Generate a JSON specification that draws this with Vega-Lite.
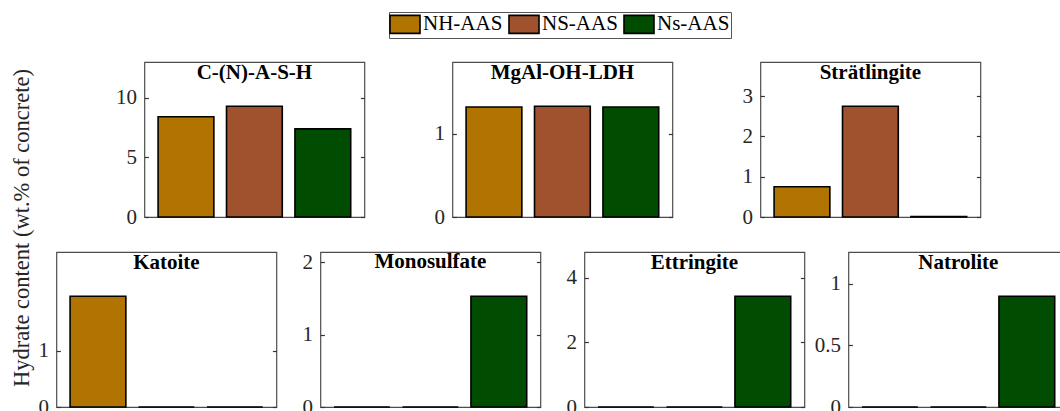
{
  "$schema": "https://vega.github.io/schema/vega-lite/v6.json",
  "padding": {"left": 10, "top": 11, "right": 5, "bottom": 5},
  "background": "white",
  "datasets": {
    "d": [
      {"hydrate": "C-(N)-A-S-H", "mix": "NH-AAS", "value": 8.42},
      {"hydrate": "C-(N)-A-S-H", "mix": "NS-AAS", "value": 9.3},
      {"hydrate": "C-(N)-A-S-H", "mix": "Ns-AAS", "value": 7.4},
      {"hydrate": "MgAl-OH-LDH", "mix": "NH-AAS", "value": 1.322},
      {"hydrate": "MgAl-OH-LDH", "mix": "NS-AAS", "value": 1.33},
      {"hydrate": "MgAl-OH-LDH", "mix": "Ns-AAS", "value": 1.322},
      {"hydrate": "Strätlingite", "mix": "NH-AAS", "value": 0.75},
      {"hydrate": "Strätlingite", "mix": "NS-AAS", "value": 2.75},
      {"hydrate": "Strätlingite", "mix": "Ns-AAS", "value": 0.01},
      {"hydrate": "Katoite", "mix": "NH-AAS", "value": 1.96},
      {"hydrate": "Katoite", "mix": "NS-AAS", "value": 0},
      {"hydrate": "Katoite", "mix": "Ns-AAS", "value": 0},
      {"hydrate": "Monosulfate", "mix": "NH-AAS", "value": 0},
      {"hydrate": "Monosulfate", "mix": "NS-AAS", "value": 0},
      {"hydrate": "Monosulfate", "mix": "Ns-AAS", "value": 1.53},
      {"hydrate": "Ettringite", "mix": "NH-AAS", "value": 0},
      {"hydrate": "Ettringite", "mix": "NS-AAS", "value": 0},
      {"hydrate": "Ettringite", "mix": "Ns-AAS", "value": 3.43},
      {"hydrate": "Natrolite", "mix": "NH-AAS", "value": 0},
      {"hydrate": "Natrolite", "mix": "NS-AAS", "value": 0},
      {"hydrate": "Natrolite", "mix": "Ns-AAS", "value": 0.9}
    ]
  },
  "data": {"name": "d"},
  "title": {
    "text": "Hydrate content (wt.% of concrete)",
    "orient": "left",
    "anchor": "middle",
    "font": "Liberation Serif",
    "fontSize": 22.5,
    "fontWeight": "normal",
    "color": "#262626",
    "offset": 4,
    "dx": -13.5
  },
  "center": true,
  "spacing": 22,
  "resolve": {"scale": {"color": "shared"}, "legend": {"color": "shared"}},
  "vconcat": [
    {
      "bounds": "flush",
      "spacing": 88,
      "resolve": {"scale": {"color": "shared"}, "legend": {"color": "shared"}},
      "hconcat": [
        {
          "width": 220, "height": 155,
          "title": {"text": "C-(N)-A-S-H"},
          "transform": [{"filter": "datum.hydrate === 'C-(N)-A-S-H'"}],
          "layer": [
            {"mark": {"type": "bar", "stroke": "black", "strokeWidth": 1.6},
             "encoding": {
               "x": {"field": "mix", "type": "nominal", "sort": ["NH-AAS", "NS-AAS", "Ns-AAS"], "axis": null, "scale": {"paddingInner": 0.185, "paddingOuter": 0.2}},
               "y": {"field": "value", "type": "quantitative", "scale": {"domain": [0, 13.02], "nice": false, "zero": true}, "axis": {"values": [0, 5, 10], "title": null}},
               "color": {"field": "mix", "type": "nominal"}
             }},
            {"mark": {"type": "bar", "opacity": 0},
             "encoding": {
               "x": {"field": "mix", "type": "nominal", "sort": ["NH-AAS", "NS-AAS", "Ns-AAS"], "axis": null},
               "y": {"field": "value", "type": "quantitative", "axis": {"orient": "right", "values": [0, 5, 10], "labels": false, "title": null}}
             }}
          ],
          "resolve": {"axis": {"y": "independent"}}
        },
        {
          "width": 220, "height": 155,
          "title": {"text": "MgAl-OH-LDH"},
          "transform": [{"filter": "datum.hydrate === 'MgAl-OH-LDH'"}],
          "layer": [
            {"mark": {"type": "bar", "stroke": "black", "strokeWidth": 1.6},
             "encoding": {
               "x": {"field": "mix", "type": "nominal", "sort": ["NH-AAS", "NS-AAS", "Ns-AAS"], "axis": null, "scale": {"paddingInner": 0.185, "paddingOuter": 0.2}},
               "y": {"field": "value", "type": "quantitative", "scale": {"domain": [0, 1.862], "nice": false, "zero": true}, "axis": {"values": [0, 1], "title": null}},
               "color": {"field": "mix", "type": "nominal"}
             }},
            {"mark": {"type": "bar", "opacity": 0},
             "encoding": {
               "x": {"field": "mix", "type": "nominal", "sort": ["NH-AAS", "NS-AAS", "Ns-AAS"], "axis": null},
               "y": {"field": "value", "type": "quantitative", "axis": {"orient": "right", "values": [0, 1], "labels": false, "title": null}}
             }}
          ],
          "resolve": {"axis": {"y": "independent"}}
        },
        {
          "width": 220, "height": 155,
          "title": {"text": "Strätlingite"},
          "transform": [{"filter": "datum.hydrate === 'Strätlingite'"}],
          "layer": [
            {"mark": {"type": "bar", "stroke": "black", "strokeWidth": 1.6},
             "encoding": {
               "x": {"field": "mix", "type": "nominal", "sort": ["NH-AAS", "NS-AAS", "Ns-AAS"], "axis": null, "scale": {"paddingInner": 0.185, "paddingOuter": 0.2}},
               "y": {"field": "value", "type": "quantitative", "scale": {"domain": [0, 3.85], "nice": false, "zero": true}, "axis": {"values": [0, 1, 2, 3], "title": null}},
               "color": {"field": "mix", "type": "nominal"}
             }},
            {"mark": {"type": "bar", "opacity": 0},
             "encoding": {
               "x": {"field": "mix", "type": "nominal", "sort": ["NH-AAS", "NS-AAS", "Ns-AAS"], "axis": null},
               "y": {"field": "value", "type": "quantitative", "axis": {"orient": "right", "values": [0, 1, 2, 3], "labels": false, "title": null}}
             }}
          ],
          "resolve": {"axis": {"y": "independent"}}
        }
      ]
    },
    {
      "bounds": "flush",
      "spacing": 44,
      "resolve": {"scale": {"color": "shared"}, "legend": {"color": "shared"}},
      "hconcat": [
        {
          "width": 220, "height": 155,
          "title": {"text": "Katoite"},
          "transform": [{"filter": "datum.hydrate === 'Katoite'"}],
          "layer": [
            {"mark": {"type": "bar", "stroke": "black", "strokeWidth": 1.6},
             "encoding": {
               "x": {"field": "mix", "type": "nominal", "sort": ["NH-AAS", "NS-AAS", "Ns-AAS"], "axis": null, "scale": {"paddingInner": 0.185, "paddingOuter": 0.2}},
               "y": {"field": "value", "type": "quantitative", "scale": {"domain": [0, 2.744], "nice": false, "zero": true}, "axis": {"values": [0, 1], "title": null}},
               "color": {"field": "mix", "type": "nominal"}
             }},
            {"mark": {"type": "bar", "opacity": 0},
             "encoding": {
               "x": {"field": "mix", "type": "nominal", "sort": ["NH-AAS", "NS-AAS", "Ns-AAS"], "axis": null},
               "y": {"field": "value", "type": "quantitative", "axis": {"orient": "right", "values": [0, 1], "labels": false, "title": null}}
             }}
          ],
          "resolve": {"axis": {"y": "independent"}}
        },
        {
          "width": 220, "height": 155,
          "title": {"text": "Monosulfate"},
          "transform": [{"filter": "datum.hydrate === 'Monosulfate'"}],
          "layer": [
            {"mark": {"type": "bar", "stroke": "black", "strokeWidth": 1.6},
             "encoding": {
               "x": {"field": "mix", "type": "nominal", "sort": ["NH-AAS", "NS-AAS", "Ns-AAS"], "axis": null, "scale": {"paddingInner": 0.185, "paddingOuter": 0.2}},
               "y": {"field": "value", "type": "quantitative", "scale": {"domain": [0, 2.142], "nice": false, "zero": true}, "axis": {"values": [0, 1, 2], "title": null}},
               "color": {"field": "mix", "type": "nominal"}
             }},
            {"mark": {"type": "bar", "opacity": 0},
             "encoding": {
               "x": {"field": "mix", "type": "nominal", "sort": ["NH-AAS", "NS-AAS", "Ns-AAS"], "axis": null},
               "y": {"field": "value", "type": "quantitative", "axis": {"orient": "right", "values": [0, 1, 2], "labels": false, "title": null}}
             }}
          ],
          "resolve": {"axis": {"y": "independent"}}
        },
        {
          "width": 220, "height": 155,
          "title": {"text": "Ettringite"},
          "transform": [{"filter": "datum.hydrate === 'Ettringite'"}],
          "layer": [
            {"mark": {"type": "bar", "stroke": "black", "strokeWidth": 1.6},
             "encoding": {
               "x": {"field": "mix", "type": "nominal", "sort": ["NH-AAS", "NS-AAS", "Ns-AAS"], "axis": null, "scale": {"paddingInner": 0.185, "paddingOuter": 0.2}},
               "y": {"field": "value", "type": "quantitative", "scale": {"domain": [0, 4.802], "nice": false, "zero": true}, "axis": {"values": [0, 2, 4], "title": null}},
               "color": {"field": "mix", "type": "nominal"}
             }},
            {"mark": {"type": "bar", "opacity": 0},
             "encoding": {
               "x": {"field": "mix", "type": "nominal", "sort": ["NH-AAS", "NS-AAS", "Ns-AAS"], "axis": null},
               "y": {"field": "value", "type": "quantitative", "axis": {"orient": "right", "values": [0, 2, 4], "labels": false, "title": null}}
             }}
          ],
          "resolve": {"axis": {"y": "independent"}}
        },
        {
          "width": 220, "height": 155,
          "title": {"text": "Natrolite"},
          "transform": [{"filter": "datum.hydrate === 'Natrolite'"}],
          "layer": [
            {"mark": {"type": "bar", "stroke": "black", "strokeWidth": 1.6},
             "encoding": {
               "x": {"field": "mix", "type": "nominal", "sort": ["NH-AAS", "NS-AAS", "Ns-AAS"], "axis": null, "scale": {"paddingInner": 0.185, "paddingOuter": 0.2}},
               "y": {"field": "value", "type": "quantitative", "scale": {"domain": [0, 1.26], "nice": false, "zero": true}, "axis": {"values": [0, 0.5, 1], "title": null}},
               "color": {"field": "mix", "type": "nominal"}
             }},
            {"mark": {"type": "bar", "opacity": 0},
             "encoding": {
               "x": {"field": "mix", "type": "nominal", "sort": ["NH-AAS", "NS-AAS", "Ns-AAS"], "axis": null},
               "y": {"field": "value", "type": "quantitative", "axis": {"orient": "right", "values": [0, 0.5, 1], "labels": false, "title": null}}
             }}
          ],
          "resolve": {"axis": {"y": "independent"}}
        }
      ]
    }
  ],
  "config": {
    "font": "Liberation Serif",
    "view": {"stroke": "#4d4d4d", "strokeWidth": 1.2},
    "bar": {"opacity": 1},
    "scale": {"bandPaddingInner": 0.185, "bandPaddingOuter": 0.2},
    "range": {"category": ["#B17400", "#A0512D", "#004C00"]},
    "axis": {
      "domain": false,
      "grid": false,
      "format": "~r",
      "labelFont": "Liberation Serif",
      "labelFontSize": 21,
      "labelColor": "#262626",
      "tickColor": "#333333",
      "tickSize": -4,
      "tickWidth": 1.2,
      "labelPadding": 12,
      "labelFlush": false,
      "labelOverlap": false
    },
    "title": {
      "font": "Liberation Serif",
      "fontSize": 21,
      "fontWeight": "bold",
      "color": "black",
      "offset": -21,
      "baseline": "alphabetic",
      "anchor": "middle"
    },
    "legend": {
      "orient": "none",
      "legendX": 333,
      "legendY": -50,
      "direction": "horizontal",
      "title": null,
      "symbolType": "M-1.5,-0.9H1.5V0.9H-1.5Z",
      "symbolSize": 400,
      "symbolOffset": 4,
      "symbolStrokeColor": "black",
      "symbolStrokeWidth": 1.6,
      "symbolOpacity": 1,
      "labelFont": "Liberation Serif",
      "labelFontSize": 21,
      "labelColor": "black",
      "labelOffset": 7,
      "columnPadding": 2,
      "strokeColor": "#555555",
      "padding": 1
    }
  }
}
